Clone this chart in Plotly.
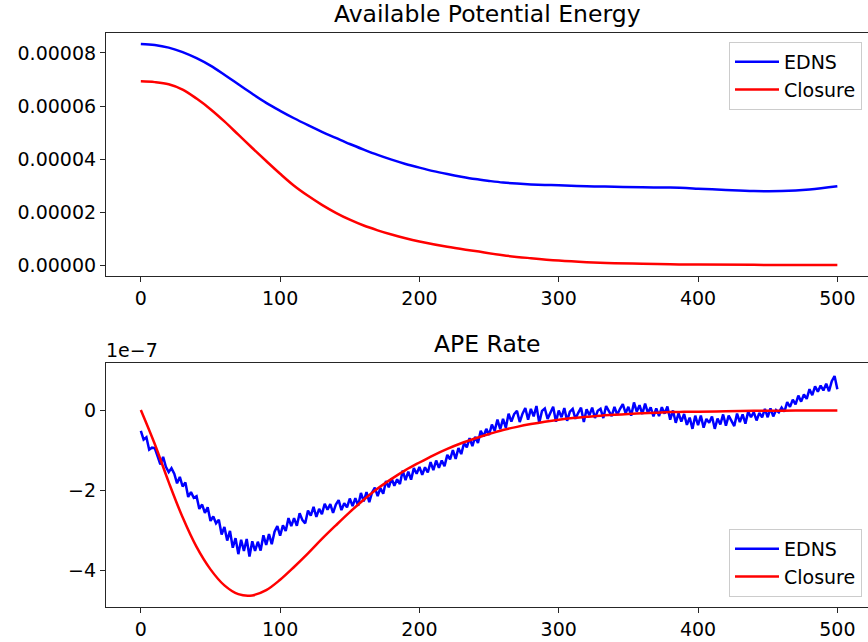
import plotly.graph_objects as go

# ---------------- data ----------------
# Available Potential Energy
ape_x = [0, 10, 20, 30, 40, 50, 60, 70, 80, 90, 100, 110, 120, 130, 140, 150, 160, 170,
         180, 190, 200, 210, 220, 230, 240, 250, 260, 270, 280, 290, 300, 320, 340, 360,
         380, 400, 420, 440, 460, 480, 500]
ape_edns = [8.34e-5, 8.30e-5, 8.20e-5, 8.03e-5, 7.80e-5, 7.52e-5, 7.18e-5, 6.82e-5,
            6.46e-5, 6.12e-5, 5.82e-5, 5.54e-5, 5.28e-5, 5.03e-5, 4.80e-5, 4.57e-5,
            4.36e-5, 4.16e-5, 3.98e-5, 3.82e-5, 3.68e-5, 3.55e-5, 3.44e-5, 3.34e-5,
            3.25e-5, 3.18e-5, 3.12e-5, 3.08e-5, 3.05e-5, 3.03e-5, 3.02e-5, 2.98e-5,
            2.96e-5, 2.94e-5, 2.93e-5, 2.89e-5, 2.84e-5, 2.80e-5, 2.80e-5, 2.86e-5,
            2.98e-5]
ape_closure_x = [0, 10, 20, 30, 40, 50, 60, 70, 80, 90, 100, 110, 120, 130, 140, 150,
                 160, 170, 180, 190, 200, 220, 240, 260, 280, 300, 320, 340, 360, 380,
                 400, 440, 500]
ape_closure = [6.93e-5, 6.90e-5, 6.82e-5, 6.62e-5, 6.28e-5, 5.88e-5, 5.42e-5, 4.92e-5,
               4.42e-5, 3.93e-5, 3.45e-5, 3.00e-5, 2.62e-5, 2.28e-5, 1.98e-5, 1.72e-5,
               1.50e-5, 1.32e-5, 1.16e-5, 1.02e-5, 0.90e-5, 0.70e-5, 0.54e-5, 0.38e-5,
               0.27e-5, 0.18e-5, 0.12e-5, 0.08e-5, 0.06e-5, 0.04e-5, 0.03e-5, 0.02e-5,
               0.01e-5]

# APE Rate (values in units of 1e-7)
rate_edns_x = list(range(0, 502, 2))
rate_edns_e7 = [
    -0.52, -0.74, -0.68, -0.99, -0.94,   -0.95, -1.15, -1.36, -1.17, -1.42,
    -1.55, -1.45, -1.59, -1.83, -1.67,   -1.91, -1.81, -2.17, -2.05, -2.19,
    -2.15, -2.47, -2.36, -2.57, -2.43,   -2.77, -2.66, -2.83, -2.74, -3.11,
    -2.92, -3.26, -3.02, -3.44, -3.20,   -3.60, -3.24, -3.52, -3.22, -3.66,
    -3.28, -3.52, -3.29, -3.51, -3.13,   -3.37, -3.10, -3.35, -3.04, -2.90,
    -3.14, -2.88, -3.02, -2.70, -2.90,   -2.70, -2.89, -2.58, -2.75, -2.83,
    -2.51, -2.64, -2.42, -2.67, -2.47,   -2.60, -2.34, -2.49, -2.35, -2.57,
    -2.36, -2.25, -2.50, -2.33, -2.43,   -2.21, -2.40, -2.20, -2.39, -2.07,
    -2.28, -2.05, -2.30, -2.06, -1.94,   -2.15, -1.95, -2.09, -1.77, -1.93,
    -1.71, -1.89, -1.73, -1.85, -1.51,   -1.75, -1.54, -1.74, -1.45, -1.59,
    -1.42, -1.62, -1.43, -1.56, -1.30,   -1.50, -1.26, -1.44, -1.26, -1.40,
    -1.12, -1.23, -1.00, -1.22, -0.95,   -1.10, -0.83, -0.93, -0.70, -0.90,
    -0.67, -0.82, -0.52, -0.66, -0.47,   -0.62, -0.36, -0.52, -0.24, -0.48,
    -0.22, -0.44, -0.09, -0.29, -0.10,   -0.02, -0.30, -0.09, 0.05, -0.24,
    0.03, -0.16, 0.10, -0.32, -0.02,     0.04, -0.22, -0.07, 0.08, -0.29,
    -0.01, -0.18, 0.05, -0.27, -0.04,    0.03, -0.22, -0.07, 0.06, -0.30,
    0.02, -0.13, 0.06, -0.20, -0.02,     0.03, -0.20, 0.10, -0.03, -0.15,
    0.08, -0.12, 0.03, 0.15, -0.08,      0.08, -0.14, 0.19, -0.04, 0.12,
    -0.10, 0.16, -0.07, 0.07, -0.16,     0.04, -0.15, 0.07, -0.09, 0.09,
    -0.24, -0.01, -0.32, -0.08, -0.29,   -0.10, -0.37, -0.19, -0.47, -0.14,
    -0.38, -0.14, -0.44, -0.22, -0.32,   -0.16, -0.47, -0.21, -0.36, -0.11,
    -0.39, -0.14, -0.27, -0.40, -0.09,   -0.30, -0.11, -0.34, -0.04, -0.18,
    -0.05, -0.26, -0.07, -0.18, 0.03,    -0.18, 0.04, -0.16, 0.00, -0.06,
    0.06, -0.04, 0.20, 0.08, 0.26,       0.14, 0.36, 0.21, 0.39, 0.28,
    0.52, 0.37, 0.59, 0.46, 0.61,        0.49, 0.66, 0.47, 0.72, 0.85,
    0.52,
]
rate_closure_x = [0, 10, 20, 30, 40, 50, 60, 70, 80, 90, 100, 110, 120, 130, 140, 150,
                  160, 170, 180, 190, 200, 210, 220, 230, 240, 250, 260, 270, 280, 290,
                  300, 310, 320, 330, 340, 350, 360, 370, 380, 390, 400, 420, 440, 460,
                  480, 500]
rate_closure_e7 = [0.0, -0.85, -1.80, -2.68, -3.42, -3.98, -4.38, -4.60, -4.63, -4.50,
                   -4.24, -3.92, -3.58, -3.22, -2.88, -2.55, -2.24, -1.96, -1.72, -1.50,
                   -1.31, -1.13, -0.97, -0.83, -0.71, -0.60, -0.50, -0.42, -0.35, -0.29,
                   -0.24, -0.20, -0.17, -0.14, -0.12, -0.10, -0.08, -0.065, -0.05, -0.045,
                   -0.04, -0.03, -0.02, -0.015, -0.012, -0.01]

series_names = ["EDNS", "Closure"]
titles = ["Available Potential Energy", "APE Rate"]
x_ticks = [0, 100, 200, 300, 400, 500]
ape_ticks = [0.0, 0.00002, 0.00004, 0.00006, 0.00008]
rate_ticks = [-4, -2, 0]

# ---------------- figure ----------------
W, H = 868, 642
FONT = "DejaVu Sans"
BLUE, RED = "#0000ff", "#ff0000"
TICK_SIZE = 19
TITLE_SIZE = 23.5


def px_x(p):
    return p / W


def px_y(p):
    return 1 - p / H


fig = go.Figure()
fig.add_trace(go.Scatter(x=ape_x, y=ape_edns, mode="lines", name=series_names[0],
                         line=dict(color=BLUE, width=2.5, shape="spline", smoothing=1.0),
                         xaxis="x", yaxis="y", legend="legend"))
fig.add_trace(go.Scatter(x=ape_closure_x, y=ape_closure, mode="lines", name=series_names[1],
                         line=dict(color=RED, width=2.5, shape="spline", smoothing=1.0),
                         xaxis="x", yaxis="y", legend="legend"))
fig.add_trace(go.Scatter(x=rate_edns_x, y=rate_edns_e7, mode="lines", name=series_names[0],
                         line=dict(color=BLUE, width=2.5),
                         xaxis="x2", yaxis="y2", legend="legend2"))
fig.add_trace(go.Scatter(x=rate_closure_x, y=rate_closure_e7, mode="lines", name=series_names[1],
                         line=dict(color=RED, width=2.5, shape="spline", smoothing=1.0),
                         xaxis="x2", yaxis="y2", legend="legend2"))

axis_common = dict(showline=True, linecolor="#262626", linewidth=1.2, mirror=True,
                   ticks="outside", ticklen=5, tickwidth=1.2, tickcolor="#262626",
                   showgrid=False, zeroline=False,
                   tickfont=dict(family=FONT, size=TICK_SIZE, color="black"))

xdom = [px_x(106), 1.0]
legend_common = dict(xanchor="right", bgcolor="rgba(255,255,255,0.8)",
                     bordercolor="#cccccc", borderwidth=1, itemwidth=44,
                     font=dict(family=FONT, size=TICK_SIZE, color="black"))
fig.update_layout(
    width=W, height=H,
    margin=dict(l=0, r=0, t=0, b=0),
    paper_bgcolor="white", plot_bgcolor="white",
    font=dict(family=FONT, color="black"),
    xaxis=dict(domain=xdom, range=[-25, 522], tickvals=x_ticks, anchor="y", **axis_common),
    yaxis=dict(domain=[px_y(276), px_y(33)], range=[-4.0e-6, 8.75e-5],
               tickvals=ape_ticks, tickformat=".5f", anchor="x", **axis_common),
    xaxis2=dict(domain=xdom, range=[-25, 522], tickvals=x_ticks, anchor="y2", **axis_common),
    yaxis2=dict(domain=[px_y(607), px_y(363)], range=[-4.92, 1.175],
                tickvals=rate_ticks, anchor="x2", **axis_common),
    legend=dict(x=px_x(862), y=px_y(42), yanchor="top", **legend_common),
    legend2=dict(x=px_x(862), y=px_y(597), yanchor="bottom", **legend_common),
    showlegend=True,
)

fig.add_annotation(text=titles[0], xref="paper", yref="paper",
                   x=(px_x(106) + 1) / 2, y=px_y(14), xanchor="center", yanchor="middle",
                   showarrow=False, font=dict(family=FONT, size=TITLE_SIZE, color="black"))
fig.add_annotation(text=titles[1], xref="paper", yref="paper",
                   x=(px_x(106) + 1) / 2, y=px_y(344), xanchor="center", yanchor="middle",
                   showarrow=False, font=dict(family=FONT, size=TITLE_SIZE, color="black"))
fig.add_annotation(text="1e\u22127", xref="paper", yref="paper",
                   x=px_x(104), y=px_y(350), xanchor="left", yanchor="middle",
                   showarrow=False, font=dict(family=FONT, size=TICK_SIZE, color="black"))

fig.write_html("out.html")
